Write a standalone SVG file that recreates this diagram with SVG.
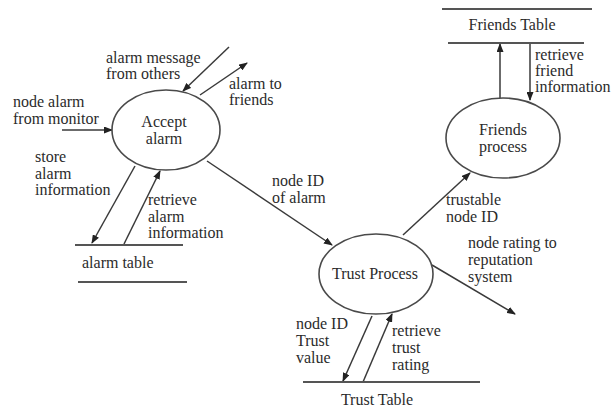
<svg xmlns="http://www.w3.org/2000/svg" width="611" height="414" viewBox="0 0 611 414">
<style>
  text { font-family: "Liberation Serif", "Times New Roman", serif; font-size: 16px; fill: #2b2b2b; }
  .c { text-anchor: middle; }
  .proc { fill: #ffffff; stroke: #4a4a4a; stroke-width: 1.6; }
  .store { stroke: #555; stroke-width: 2; fill: none; }
  .flow { stroke: #3a3a3a; stroke-width: 1.5; fill: none; marker-end: url(#ah); }
</style>
<defs>
  <marker id="ah" markerUnits="userSpaceOnUse" markerWidth="9" markerHeight="7" refX="8" refY="3.5" orient="auto">
    <path d="M0,0 L9,3.5 L0,7 z" fill="#222"/>
  </marker>
</defs>
<rect width="611" height="414" fill="#ffffff"/>

<g id="connectors">
  <line class="flow" x1="62" y1="130" x2="112" y2="130"/>
  <line class="flow" x1="229" y1="47" x2="183" y2="91"/>
  <line class="flow" x1="200" y1="95" x2="247" y2="63"/>
  <line class="flow" x1="135" y1="166" x2="92" y2="243"/>
  <line class="flow" x1="124" y1="244" x2="160" y2="171"/>
  <line class="flow" x1="207" y1="161" x2="332" y2="245"/>
  <line class="flow" x1="403" y1="235" x2="470" y2="173"/>
  <line class="flow" x1="432" y1="265" x2="515" y2="314"/>
  <line class="flow" x1="372" y1="316" x2="343" y2="381"/>
  <line class="flow" x1="363" y1="382" x2="392" y2="314"/>
  <line class="flow" x1="500" y1="98" x2="500" y2="44"/>
  <line class="flow" x1="530" y1="44" x2="530" y2="100"/>
</g>

<g id="labels">
  <text x="13" y="107">node alarm</text>
  <text x="13" y="124">from monitor</text>
  <text x="106" y="63">alarm message</text>
  <text x="106" y="79">from others</text>
  <text x="229" y="89">alarm to</text>
  <text x="229" y="105">friends</text>
  <text x="35" y="162">store</text>
  <text x="35" y="179">alarm</text>
  <text x="35" y="195">information</text>
  <text x="148" y="205">retrieve</text>
  <text x="148" y="222">alarm</text>
  <text x="148" y="238">information</text>
  <text x="272" y="186">node ID</text>
  <text x="272" y="203">of alarm</text>
  <text x="446" y="205">trustable</text>
  <text x="446" y="222">node ID</text>
  <text x="468" y="248">node rating to</text>
  <text x="468" y="265">reputation</text>
  <text x="468" y="282">system</text>
  <text x="296" y="329">node ID</text>
  <text x="296" y="346">Trust</text>
  <text x="296" y="363">value</text>
  <text x="392" y="336">retrieve</text>
  <text x="392" y="353">trust</text>
  <text x="392" y="370">rating</text>
  <text x="535" y="60">retrieve</text>
  <text x="535" y="76">friend</text>
  <text x="535" y="92">information</text>
</g>

<g id="accept-alarm">
  <ellipse class="proc" cx="166" cy="130" rx="54" ry="40"/>
  <text class="c" x="164" y="127">Accept</text>
  <text class="c" x="164" y="144">alarm</text>
</g>

<g id="trust-process">
  <ellipse class="proc" cx="376" cy="274" rx="57" ry="40"/>
  <text class="c" x="375" y="279">Trust Process</text>
</g>

<g id="friends-process">
  <ellipse class="proc" cx="503" cy="138" rx="57" ry="40"/>
  <text class="c" x="503" y="135">Friends</text>
  <text class="c" x="503" y="152">process</text>
</g>

<g id="alarm-table">
  <line class="store" x1="75" y1="245" x2="183" y2="245"/>
  <line class="store" x1="78" y1="282" x2="187" y2="282"/>
  <text x="82" y="268">alarm table</text>
</g>

<g id="trust-table">
  <line class="store" x1="303" y1="382" x2="480" y2="382"/>
  <text class="c" x="377" y="405">Trust Table</text>
</g>

<g id="friends-table">
  <line class="store" x1="442" y1="9" x2="592" y2="9"/>
  <line class="store" x1="448" y1="43" x2="584" y2="43"/>
  <text class="c" x="512" y="30">Friends Table</text>
</g>
</svg>
